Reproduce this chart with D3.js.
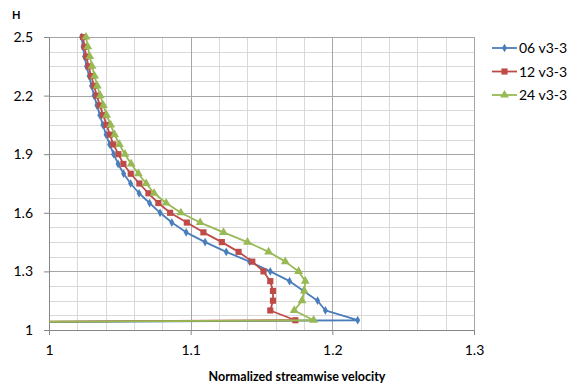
<!DOCTYPE html>
<html>
<head>
<meta charset="utf-8">
<script src="https://cdn.jsdelivr.net/npm/d3@7"></script>
<style>
  html, body { margin: 0; padding: 0; background: #fff; }
  svg { display: block; font-family: Lato, "Open Sans", sans-serif; }
</style>
</head>
<body>
<svg id="chart" width="570" height="385"></svg>
<script>
// Profile heights (H); the last level is the wall, where velocity is zero
const heights = [2.50, 2.45, 2.40, 2.35, 2.30, 2.25, 2.20, 2.15, 2.10, 2.05,
                 2.00, 1.95, 1.90, 1.85, 1.80, 1.75, 1.70, 1.65, 1.60, 1.55,
                 1.50, 1.45, 1.40, 1.35, 1.30, 1.25, 1.20, 1.15, 1.10, 1.05, 1.00];

// Normalized streamwise velocity for each run
const v06 = [1.0230, 1.0240, 1.0251, 1.0265, 1.0283, 1.0300, 1.0318, 1.0338, 1.0359, 1.0380,
             1.0403, 1.0428, 1.0456, 1.0488, 1.0527, 1.0576, 1.0636, 1.0710, 1.0784, 1.0867,
             1.0968, 1.1102, 1.1251, 1.1416, 1.1562, 1.1698, 1.1797, 1.1896, 1.1951, 1.2179, 0];
const v12 = [1.0240, 1.0251, 1.0263, 1.0279, 1.0298, 1.0318, 1.0337, 1.0359, 1.0383, 1.0406,
             1.0430, 1.0454, 1.0490, 1.0525, 1.0577, 1.0638, 1.0702, 1.0772, 1.0855, 1.0973,
             1.1090, 1.1220, 1.1338, 1.1435, 1.1514, 1.1562, 1.1581, 1.1581, 1.1562, 1.1739, 0];
const v24 = [1.0261, 1.0274, 1.0288, 1.0304, 1.0322, 1.0341, 1.0362, 1.0384, 1.0407, 1.0435,
             1.0463, 1.0497, 1.0536, 1.0580, 1.0631, 1.0686, 1.0742, 1.0827, 1.0931, 1.1067,
             1.1232, 1.1401, 1.1550, 1.1668, 1.1762, 1.1809, 1.1802, 1.1786, 1.1731, 1.1868, 0];

const seriesNames = ["06 v3-3", "12 v3-3", "24 v3-3"];
const xTicks = [1, 1.1, 1.2, 1.3];
const yTicks = [1, 1.3, 1.6, 1.9, 2.2, 2.5];
const xLabel = "Normalized streamwise velocity";
const yLabel = "H";

const colors = ["#4A7EBB", "#BE4B48", "#98B954"];
const symbols = [d3.symbolDiamond, d3.symbolSquare, d3.symbolTriangle];
const symbolSizes = [22, 38, 34];

const series = [v06, v12, v24].map((vals, i) => ({
  name: seriesNames[i],
  points: vals.map((v, j) => ({ v, h: heights[j] }))
}));

const plotLeft = 49, plotRight = 474, plotTop = 37, plotBottom = 330;
const x = d3.scaleLinear().domain([1, 1.3]).range([plotLeft, plotRight]);
const y = d3.scaleLinear().domain([1, 2.5]).range([plotBottom, plotTop]);

const svg = d3.select("#chart");

// Gridlines: minor every 0.02 / 0.075, major at the labelled ticks
const grid = svg.append("g").attr("shape-rendering", "crispEdges");
const xMinor = d3.range(1, 1.3001, 0.02);
const yMinor = d3.range(1, 2.5001, 0.075);
function vLines(vals, color) {
  grid.append("g").selectAll("line").data(vals).join("line")
    .attr("x1", d => Math.round(x(d)) + 0.5).attr("x2", d => Math.round(x(d)) + 0.5)
    .attr("y1", plotTop).attr("y2", plotBottom)
    .attr("stroke", color).attr("stroke-width", 1);
}
function hLines(vals, color) {
  grid.append("g").selectAll("line").data(vals).join("line")
    .attr("y1", d => Math.round(y(d)) + 0.5).attr("y2", d => Math.round(y(d)) + 0.5)
    .attr("x1", plotLeft).attr("x2", plotRight)
    .attr("stroke", color).attr("stroke-width", 1);
}
vLines(xMinor, "#D9D9D9");
hLines(yMinor, "#D9D9D9");
vLines(xTicks, "#A6A6A6");
hLines(yTicks, "#A6A6A6");

// Axes
const xAxis = svg.append("g")
  .attr("transform", `translate(0,${plotBottom})`)
  .call(d3.axisBottom(x).tickValues(xTicks).tickFormat(d3.format("")).tickSize(5).tickSizeOuter(0).tickPadding(10));
const yAxis = svg.append("g")
  .attr("transform", `translate(${plotLeft},0)`)
  .call(d3.axisLeft(y).tickValues(yTicks).tickFormat(d3.format("")).tickSize(5).tickSizeOuter(0).tickPadding(11));
[xAxis, yAxis].forEach(g => {
  g.selectAll("path.domain").attr("stroke", "#868686");
  g.selectAll(".tick line").attr("stroke", "#868686");
  g.selectAll(".tick text").attr("fill", "#000").style("font-size", "14px")
    .style("font-family", "Lato, 'Open Sans', sans-serif");
});

// Axis titles
svg.append("text").attr("x", 297).attr("y", 381).attr("text-anchor", "middle")
  .style("font-size", "12.5px").style("font-weight", "bold").text(xLabel);
svg.append("text").attr("x", 12).attr("y", 19)
  .style("font-size", "11px").style("font-weight", "bold").text(yLabel);

// Series lines and markers; lines running to the wall are cut at the plot edge
svg.append("clipPath").attr("id", "plotClip")
  .append("rect").attr("x", plotLeft).attr("y", 0).attr("width", 570 - plotLeft).attr("height", 385);

const line = d3.line().x(d => x(d.v)).y(d => y(d.h));
const plot = svg.append("g").attr("clip-path", "url(#plotClip)");

series.forEach((s, i) => {
  const g = plot.append("g");
  g.append("path").datum(s.points)
    .attr("d", line).attr("fill", "none")
    .attr("stroke", colors[i]).attr("stroke-width", 1.8).attr("stroke-linejoin", "round");
  g.selectAll("path.mk").data(s.points).join("path")
    .attr("class", "mk")
    .attr("transform", d => `translate(${x(d.v)},${y(d.h)})`)
    .attr("d", d3.symbol().type(symbols[i]).size(symbolSizes[i]))
    .attr("fill", colors[i]);
});

// Legend
const legend = svg.append("g");
series.forEach((s, i) => {
  const ly = 48 + i * 23.5;
  const g = legend.append("g").attr("transform", `translate(0,${ly})`);
  g.append("line").attr("x1", 492).attr("x2", 517).attr("y1", 0).attr("y2", 0)
    .attr("stroke", colors[i]).attr("stroke-width", 1.8);
  g.append("path").attr("transform", "translate(504.5,0)")
    .attr("d", d3.symbol().type(symbols[i]).size(symbolSizes[i]))
    .attr("fill", colors[i]);
  g.append("text").attr("x", 519).attr("y", 5)
    .style("font-size", "14px").text(s.name);
});
</script>
</body>
</html>
